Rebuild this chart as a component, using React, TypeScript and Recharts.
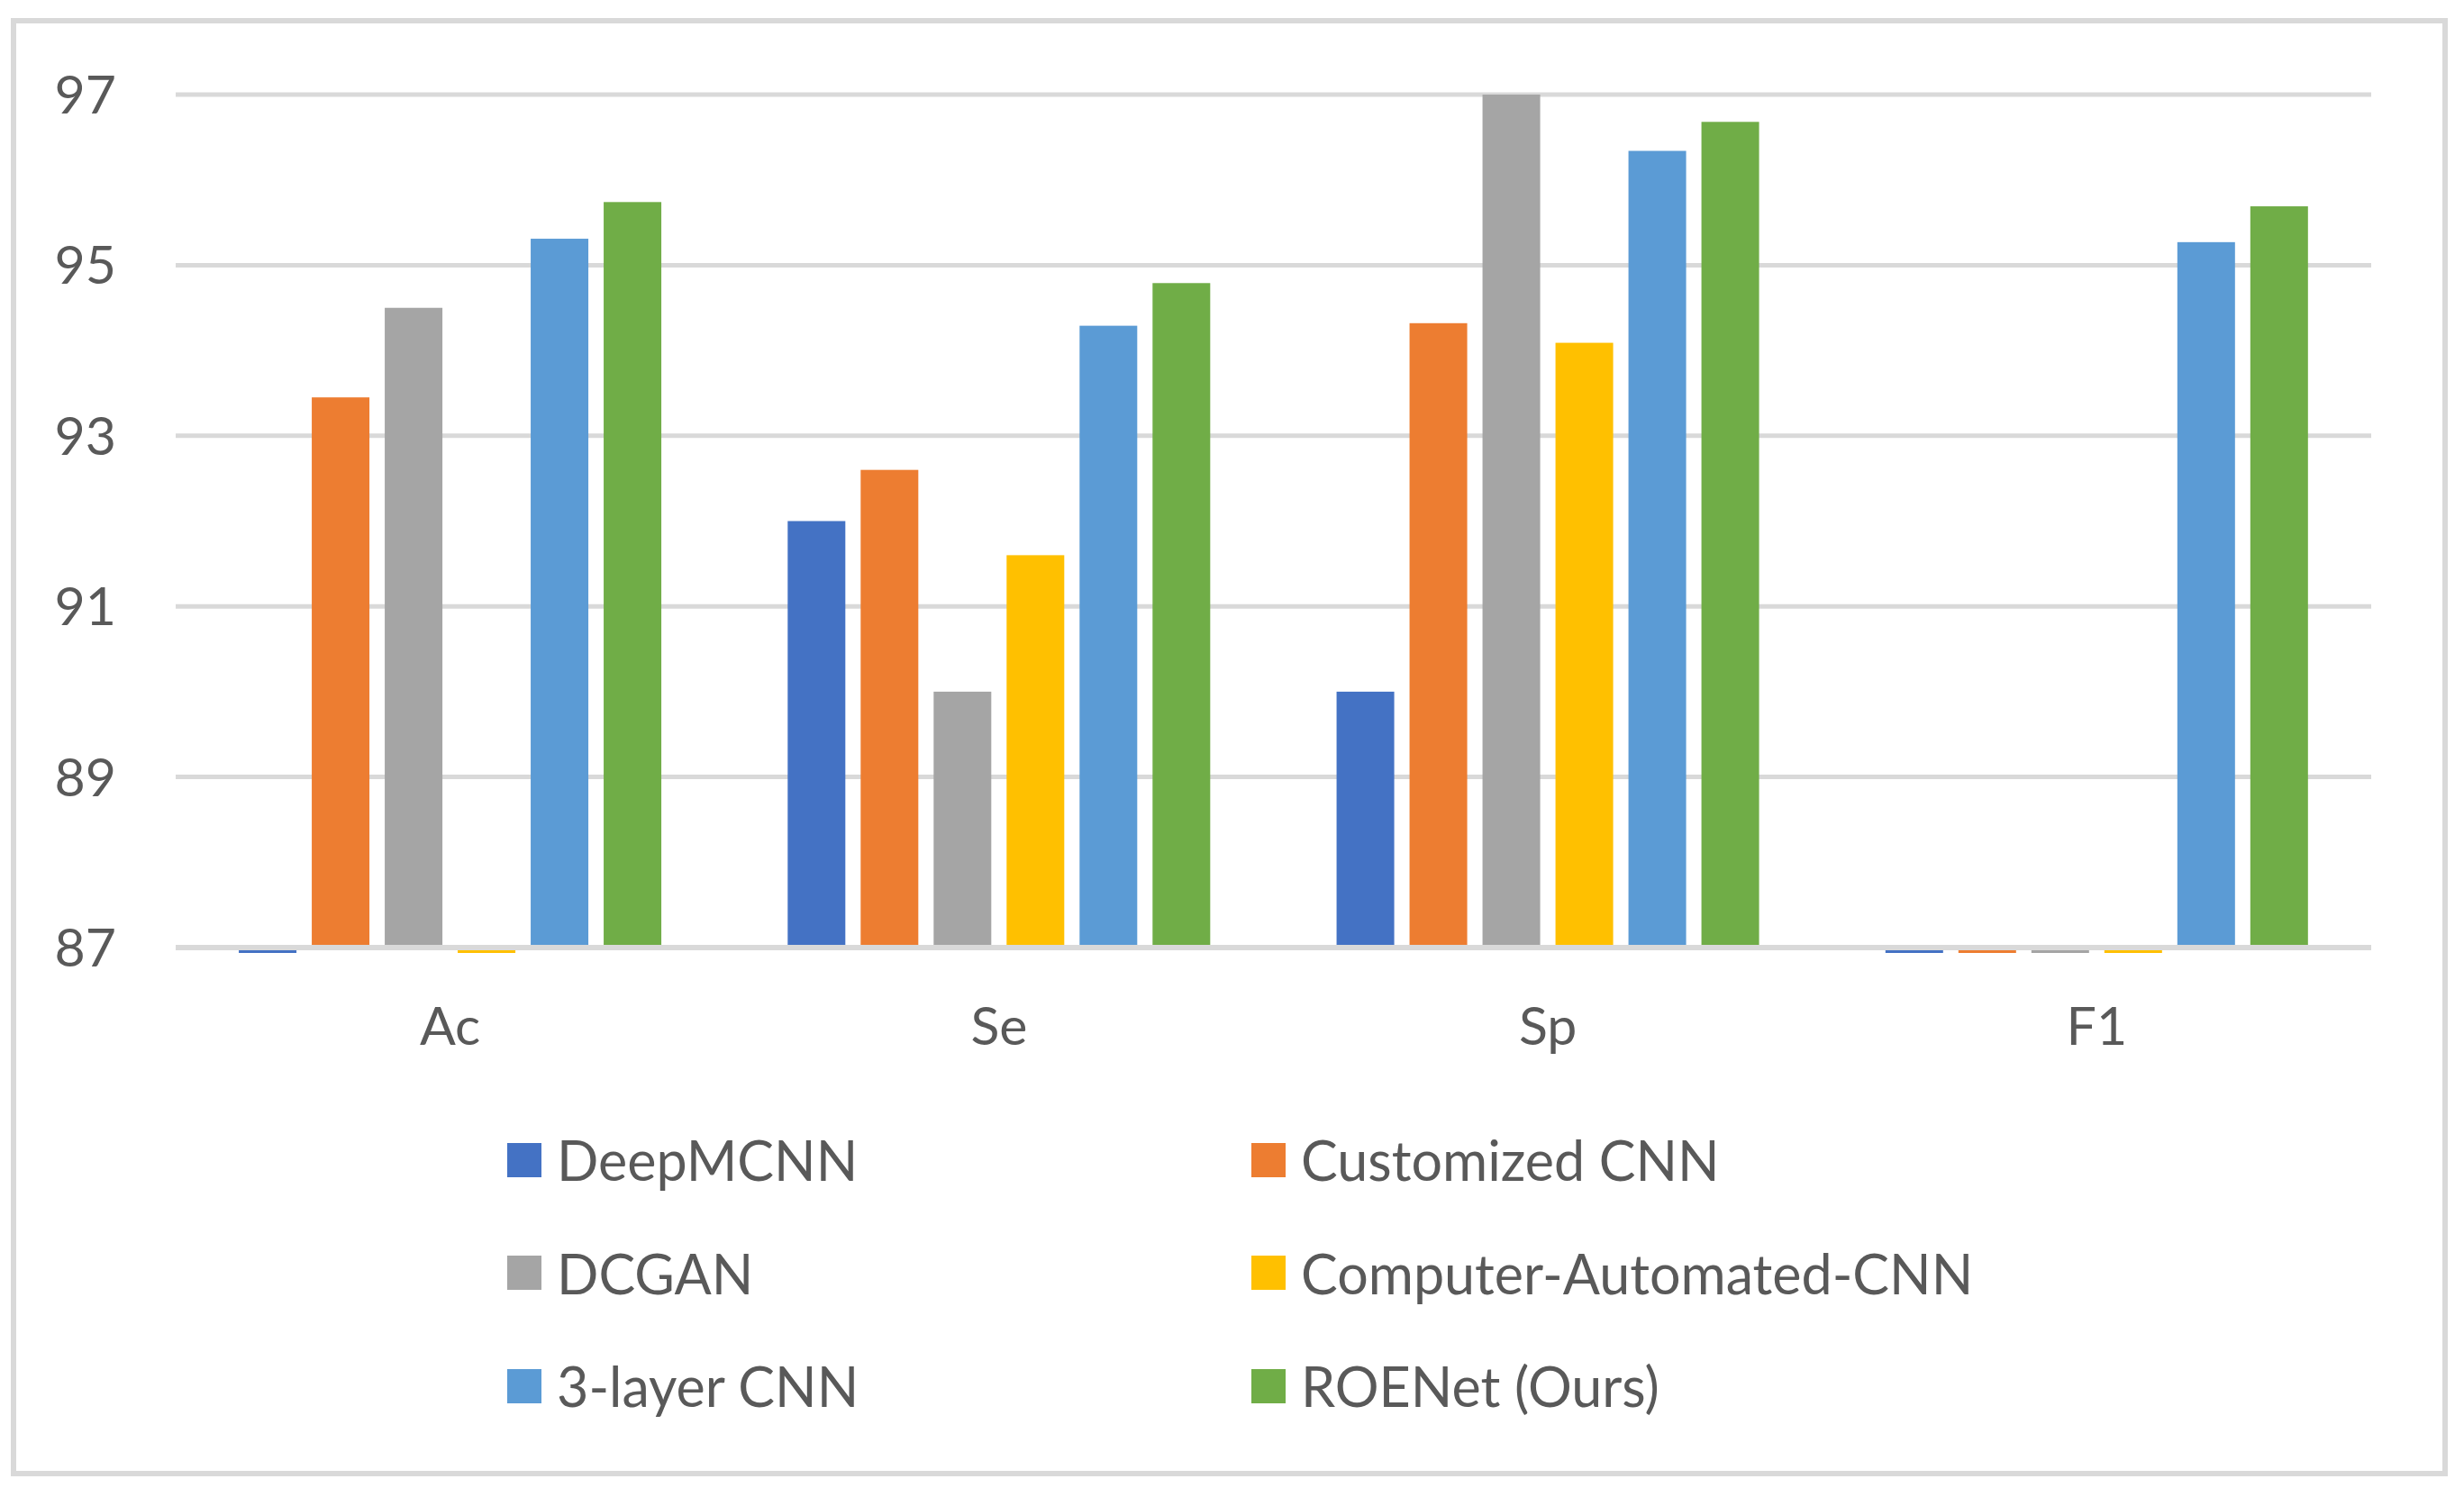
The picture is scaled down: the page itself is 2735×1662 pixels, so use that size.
import React from 'react';
import { BarChart, Bar, XAxis, YAxis, CartesianGrid, Legend } from 'recharts';

const categories = ['Ac', 'Se', 'Sp', 'F1'];

// null = not reported (drawn as a thin stub under the axis, like Excel does)
const deepMCNN = [null, 92.0, 90.0, null];
const customizedCNN = [93.45, 92.6, 94.32, null];
const dcgan = [94.5, 90.0, 97.0, null];
const computerAutomatedCNN = [null, 91.6, 94.09, null];
const threeLayerCNN = [95.31, 94.29, 96.34, 95.27];
const roeNet = [95.74, 94.79, 96.68, 95.69];

const yTicks = [87, 89, 91, 93, 95, 97];
const Y_MIN = 87;
const Y_MAX = 97;

const series = [
  { key: 'deep', name: 'DeepMCNN', color: '#4472C4', values: deepMCNN },
  { key: 'custom', name: 'Customized CNN', color: '#ED7D31', values: customizedCNN },
  { key: 'dcgan', name: 'DCGAN', color: '#A5A5A5', values: dcgan },
  { key: 'auto', name: 'Computer-Automated-CNN', color: '#FFC000', values: computerAutomatedCNN },
  { key: 'three', name: '3-layer CNN', color: '#5B9BD5', values: threeLayerCNN },
  { key: 'roe', name: 'ROENet (Ours)', color: '#70AD47', values: roeNet },
];

const data = categories.map((cat, i) => {
  const row: Record<string, any> = { cat };
  series.forEach((s) => {
    const v = s.values[i];
    row[s.key] = v == null ? Y_MIN : v;
    row[s.key + '_missing'] = v == null;
  });
  return row;
});

const FONT = 'Lato, "Open Sans", sans-serif';
const TEXT = '#595959';
const GRID = '#d9d9d9';

const makeShape = (key: string) => (props: any) => {
  const { x, y, width, height, fill, payload } = props;
  if (payload && payload[key + '_missing']) {
    return <rect x={x} y={y + 3} width={width} height={3} fill={fill} />;
  }
  return <rect x={x} y={y} width={width} height={Math.max(height, 0)} fill={fill} />;
};

const LegendGrid = () => (
  <div
    style={{
      height: 377,
      paddingLeft: 563,
      display: 'grid',
      gridTemplateColumns: '826px 826px',
      gridAutoRows: '125.5px',
      fontFamily: FONT,
      fontSize: 61,
      color: TEXT,
    }}
  >
    {series.map((s) => (
      <div key={s.key} style={{ display: 'flex', alignItems: 'center' }}>
        <span style={{ width: 38, height: 38, background: s.color, marginRight: 17, display: 'inline-block' }} />
        <span style={{ whiteSpace: 'nowrap' }}>{s.name}</span>
      </div>
    ))}
  </div>
);

export default function App() {
  return (
    <div style={{ position: 'absolute', left: 0, top: 0, width: 2735, height: 1662, background: '#fff' }}>
      <div
        style={{
          position: 'absolute',
          left: 12,
          top: 20,
          width: 2705,
          height: 1619,
          border: `6px solid ${GRID}`,
          boxSizing: 'border-box',
        }}
      />
      <BarChart
        width={2735}
        height={1662}
        data={data}
        margin={{ top: 105, right: 103, left: 45, bottom: 133 }}
        barCategoryGap="11.5%"
        barGap={17}
        style={{ fontFamily: FONT }}
      >
        <CartesianGrid vertical={false} stroke={GRID} strokeWidth={5} />
        <XAxis
          dataKey="cat"
          height={100}
          axisLine={{ stroke: GRID, strokeWidth: 6 }}
          tickLine={false}
          tickSize={0}
          tickMargin={66}
          tick={{ fill: TEXT, fontSize: 59, fontFamily: FONT }}
        />
        <YAxis
          width={150}
          domain={[Y_MIN, Y_MAX]}
          ticks={yTicks}
          interval={0}
          axisLine={false}
          tickLine={false}
          tickSize={0}
          tickMargin={66}
          tick={{ fill: TEXT, fontSize: 59, fontFamily: FONT }}
        />
        <Legend
          verticalAlign="bottom"
          content={() => <LegendGrid />}
          wrapperStyle={{ top: 1225, left: 0, width: 2735 }}
        />
        {series.map((s) => (
          <Bar
            key={s.key}
            dataKey={s.key}
            name={s.name}
            fill={s.color}
            isAnimationActive={false}
            shape={makeShape(s.key)}
          />
        ))}
      </BarChart>
    </div>
  );
}
